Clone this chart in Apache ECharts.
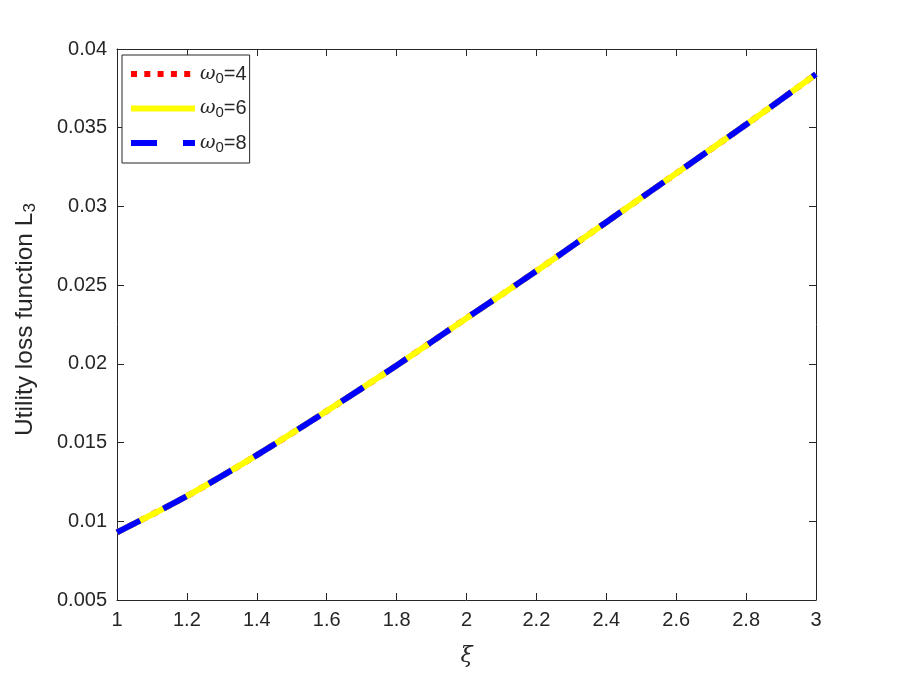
<!DOCTYPE html>
<html>
<head>
<meta charset="utf-8">
<script src="https://cdn.jsdelivr.net/npm/echarts@6/dist/echarts.min.js"></script>
<style>
  html, body { margin: 0; padding: 0; background: #fff; }
  #chart { width: 900px; height: 675px; }
</style>
</head>
<body>
<div id="chart"></div>
<script>
// ξ 取值
const xi = [1, 1.2, 1.4, 1.6, 1.8, 2, 2.2, 2.4, 2.6, 2.8, 3]
// 三条曲线几乎重合
const lossW4 = [0.0093, 0.0116, 0.0142, 0.0170, 0.0199, 0.0229, 0.0259, 0.0290, 0.0321, 0.0352, 0.0384]
const lossW6 = [0.0093, 0.0116, 0.0142, 0.0170, 0.0199, 0.0229, 0.0259, 0.0290, 0.0321, 0.0352, 0.0384]
const lossW8 = [0.0093, 0.0116, 0.0142, 0.0170, 0.0199, 0.0229, 0.0259, 0.0290, 0.0321, 0.0352, 0.0384]
const legendNames = ['ω0=4', 'ω0=6', 'ω0=8']

const axisColor = '#262626'
const font = 'Liberation Sans, Arial, sans-serif'

const pairs = arr => xi.map((x, i) => [x, arr[i]])

const styles = [
  { color: '#ff0000', width: 6, type: [6, 7.3], cap: 'butt' },
  { color: '#ffff00', width: 6, type: 'solid', cap: 'butt' },
  { color: '#0000ff', width: 6, type: [26, 26], cap: 'butt' }
]

const myChart = echarts.init(document.getElementById('chart'))
myChart.setOption({
  animation: false,
  backgroundColor: '#fff',
  grid: { left: 117, right: 84, top: 49, bottom: 75 },
  legend: {
    orient: 'vertical',
    left: 122,
    top: 55,
    padding: [9, 3, 8, 6],
    itemWidth: 64,
    itemHeight: 14,
    itemGap: 12.5,
    borderColor: axisColor,
    borderWidth: 1,
    borderRadius: 0,
    backgroundColor: '#fff',
    itemStyle: { opacity: 0 },
    data: legendNames.map((n, i) => ({ name: n, lineStyle: { ...styles[i] } })),
    formatter: name => {
      const m = name.match(/ω0(=\d)/)
      return '{w|ω}{s|0}{n|' + m[1] + '}'
    },
    textStyle: {
      color: axisColor,
      rich: {
        w: { fontFamily: 'DejaVu Serif', fontStyle: 'italic', fontSize: 19, lineHeight: 24, verticalAlign: 'middle', color: axisColor },
        s: { fontFamily: font, fontSize: 15, lineHeight: 14, verticalAlign: 'bottom', color: axisColor },
        n: { fontFamily: font, fontSize: 20, lineHeight: 24, verticalAlign: 'middle', color: axisColor }
      }
    }
  },
  xAxis: [{
    type: 'value',
    min: 1,
    max: 3,
    interval: 0.2,
    name: 'ξ',
    nameLocation: 'middle',
    nameGap: 45,
    nameTextStyle: { fontFamily: 'DejaVu Serif', fontStyle: 'italic', fontSize: 22, color: axisColor },
    axisLine: { lineStyle: { color: axisColor, width: 1 } },
    axisTick: { inside: true, length: 7, lineStyle: { color: axisColor } },
    axisLabel: { color: axisColor, fontFamily: font, fontSize: 20, margin: 10 },
    splitLine: { show: false }
  }, {
    type: 'value',
    position: 'top',
    min: 1,
    max: 3,
    interval: 0.2,
    axisLine: { show: true, lineStyle: { color: axisColor, width: 1 } },
    axisTick: { inside: true, length: 7, lineStyle: { color: axisColor } },
    axisLabel: { show: false },
    splitLine: { show: false }
  }],
  yAxis: [{
    type: 'value',
    min: 0.005,
    max: 0.04,
    interval: 0.005,
    name: '{a|Utility loss function L}{sub|3}',
    nameLocation: 'middle',
    nameGap: 78,
    nameTextStyle: {
      color: axisColor,
      padding: [0, 0, 0, 10],
      rich: {
        a: { fontFamily: font, fontSize: 24.5, lineHeight: 28, verticalAlign: 'middle', color: axisColor },
        sub: { fontFamily: font, fontSize: 17, lineHeight: 17, verticalAlign: 'bottom', color: axisColor }
      }
    },
    axisLine: { show: true, lineStyle: { color: axisColor, width: 1 } },
    axisTick: { show: true, inside: true, length: 7, lineStyle: { color: axisColor } },
    axisLabel: { color: axisColor, fontFamily: font, fontSize: 20, margin: 10 },
    splitLine: { show: false }
  }, {
    type: 'value',
    position: 'right',
    min: 0.005,
    max: 0.04,
    interval: 0.005,
    axisLine: { show: true, lineStyle: { color: axisColor, width: 1 } },
    axisTick: { show: true, inside: true, length: 7, lineStyle: { color: axisColor } },
    axisLabel: { show: false },
    splitLine: { show: false }
  }],
  series: [{
    name: legendNames[0],
    type: 'line',
    symbol: 'none',
    smooth: 0.3,
    lineStyle: styles[0],
    data: pairs(lossW4)
  }, {
    name: legendNames[1],
    type: 'line',
    symbol: 'none',
    smooth: 0.3,
    lineStyle: styles[1],
    data: pairs(lossW6)
  }, {
    name: legendNames[2],
    type: 'line',
    symbol: 'none',
    smooth: 0.3,
    lineStyle: styles[2],
    data: pairs(lossW8)
  }]
})
</script>
</body>
</html>
